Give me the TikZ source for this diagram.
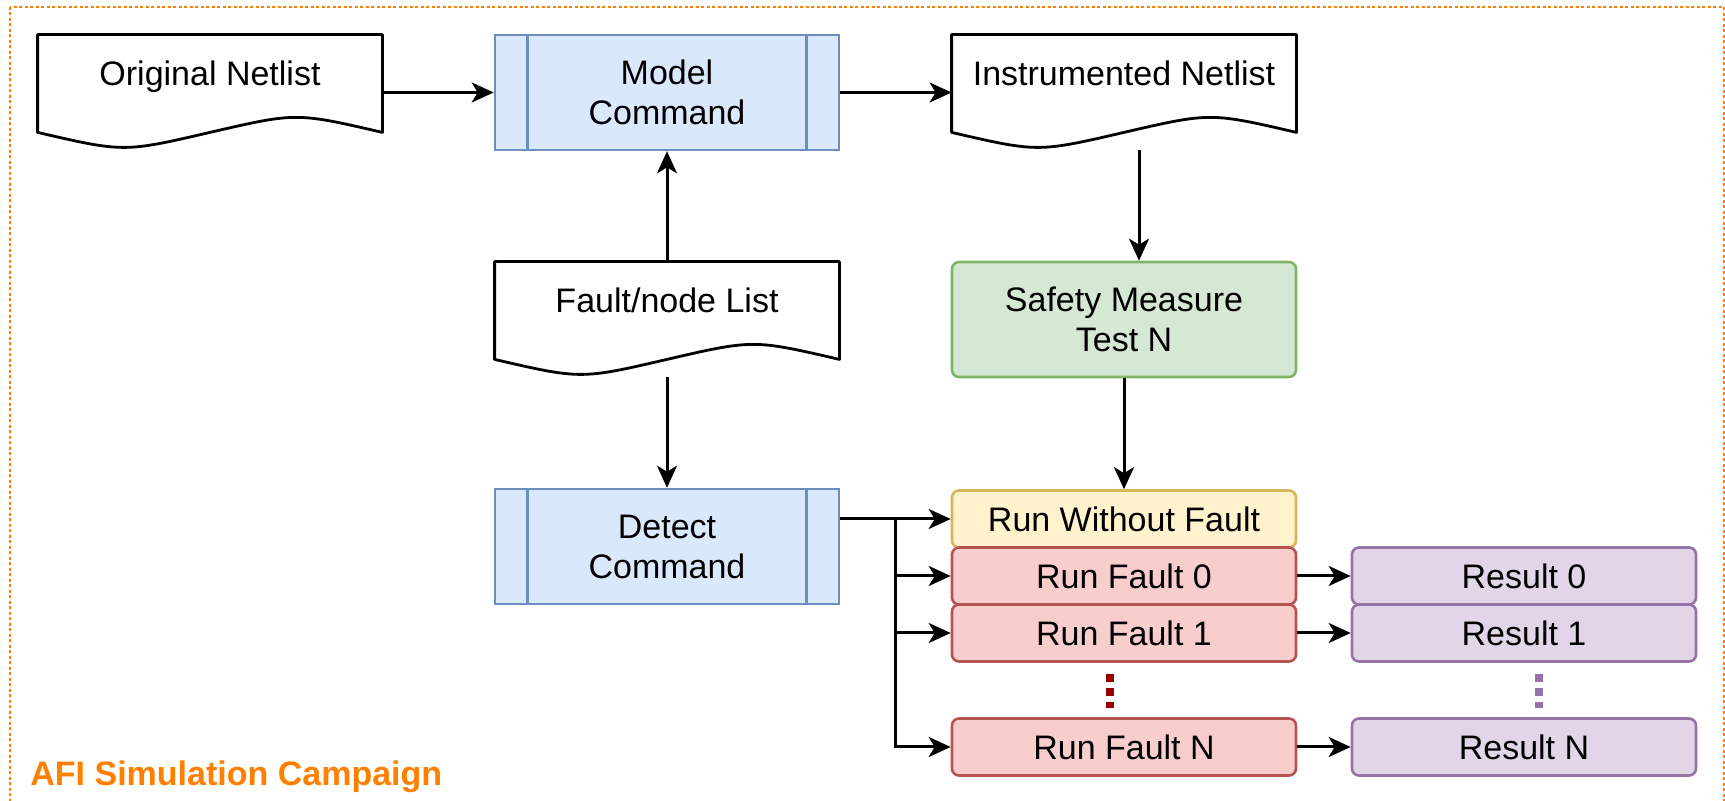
\documentclass[tikz,border=0pt]{standalone}
\usepackage{fontspec}
\setmainfont{Liberation Sans}
\usetikzlibrary{arrows.meta,calc}

\definecolor{campaign}{HTML}{FF8000}
\definecolor{procfill}{HTML}{DAE8FC}
\definecolor{procline}{HTML}{6C8EBF}
\definecolor{testfill}{HTML}{D5E8D4}
\definecolor{testline}{HTML}{82B366}
\definecolor{cleanfill}{HTML}{FFF2CC}
\definecolor{cleanline}{HTML}{D6B656}
\definecolor{faultfill}{HTML}{F8CECC}
\definecolor{faultline}{HTML}{B85450}
\definecolor{faultdots}{HTML}{990000}
\definecolor{resfill}{HTML}{E1D5E7}
\definecolor{resline}{HTML}{9673A6}

\tikzset{node distance=228.5pt, auto,
  every node/.style={font=\fontsize{17}{20}\selectfont, align=center},
  doc/.style={minimum width=172pt, minimum height=57.5pt, text height=12pt, text depth=18.5pt},
  docline/.style={line width=1.4pt, line join=round},
  procbox/.style={draw=procline, fill=procfill, line width=1.3pt,
    minimum width=172pt, minimum height=57.5pt,
    append after command={
      ([xshift=17pt]\tikzlastnode.north west) edge[draw=procline, line width=1.3pt] ([xshift=17pt]\tikzlastnode.south west)
      ([xshift=-17pt]\tikzlastnode.north east) edge[draw=procline, line width=1.3pt] ([xshift=-17pt]\tikzlastnode.south east)}},
  roundbox/.style={line width=1.3pt, rounded corners=3.5pt, minimum width=172pt, minimum height=28.5pt},
  faultbox/.style={roundbox, draw=faultline, fill=faultfill},
  resbox/.style={roundbox, draw=resline, fill=resfill},
  flow/.style={-{Stealth[length=11pt, width=10pt, inset=3pt]}, line width=1.5pt},
  gap/.style={line width=4pt, dash pattern=on 4pt off 3pt}
}

% wavy bottom of a document node
\newcommand{\docwave}[1]{%
  \draw[docline] (#1.north west) -- (#1.north east) -- ([yshift=9pt]#1.south east)
    .. controls ($(#1.south)!0.5!(#1.south east)+(0,19pt)$) .. ([yshift=9pt]#1.south)
    .. controls ($(#1.south)!0.5!(#1.south west)+(0,-1pt)$) .. ([yshift=9pt]#1.south west) -- cycle;}

\begin{document}
\begin{tikzpicture}
  \useasboundingbox (0,0) rectangle (862.5pt,-400.5pt);
  \draw[campaign, line width=1.2pt, dash pattern=on 1.3pt off 1.45pt] (5pt,-3.5pt) rectangle (862pt,-420pt);
  \node[anchor=base west, inner sep=0pt, text=campaign, font=\fontsize{17}{20}\selectfont\bfseries] (title) at (15pt,-392.5pt) {AFI Simulation Campaign};

  \node[doc] (orig) at (105pt,-46.25pt) {Original Netlist};
  \node[procbox] (model) [right of=orig] {Model\\Command};
  \node[doc] (instr) [right of=model] {Instrumented Netlist};
  \node[doc] (faults) [node distance=113.5pt, below of=model] {Fault/node List};
  \node[procbox] (detect) [node distance=113.5pt, below of=faults] {Detect\\Command};
  \node[roundbox, draw=testline, fill=testfill, minimum height=57.5pt] (safety) [node distance=113.5pt, below of=instr] {Safety Measure\\Test N};
  \node[roundbox, draw=cleanline, fill=cleanfill] (runok) [node distance=99.75pt, below of=safety] {Run Without Fault};
  \node[faultbox] (run0) [node distance=28.5pt, below of=runok] {Run Fault 0};
  \node[faultbox] (run1) [node distance=28.5pt, below of=run0] {Run Fault 1};
  \node[faultbox] (runN) [node distance=57pt, below of=run1] {Run Fault N};
  \node[resbox] (res0) [node distance=200pt, right of=run0] {Result 0};
  \node[resbox] (res1) [node distance=200pt, right of=run1] {Result 1};
  \node[resbox] (resN) [node distance=200pt, right of=runN] {Result N};

  \docwave{orig}
  \docwave{instr}
  \docwave{faults}

  \draw[flow] (orig) -- (model);
  \draw[flow] (model) -- (instr);
  \draw[flow] (faults) -- (model);
  \draw[flow] (faults) -- (detect);
  \draw[flow] ([xshift=7.5pt]instr.south) -- ([xshift=7.5pt]safety.north);
  \draw[flow] (safety) -- (runok);

  \coordinate (fork) at ($(detect.east |- runok)!0.5!(runok.west)$);
  \draw[flow] (detect.east |- runok) -- (runok);
  \draw[flow] (fork) |- (run0);
  \draw[flow] (fork) |- (run1);
  \draw[flow] (fork) |- (runN);

  \draw[flow] (run0) -- (res0);
  \draw[flow] (run1) -- (res1);
  \draw[flow] (runN) -- (resN);

  \draw[gap, faultdots] ([xshift=-7pt,yshift=-5.5pt]run1.south) -- ([xshift=-7pt,yshift=4.5pt]runN.north);
  \draw[gap, resline] ([xshift=7.5pt,yshift=-5.5pt]res1.south) -- ([xshift=7.5pt,yshift=4.5pt]resN.north);
\end{tikzpicture}
\end{document}
